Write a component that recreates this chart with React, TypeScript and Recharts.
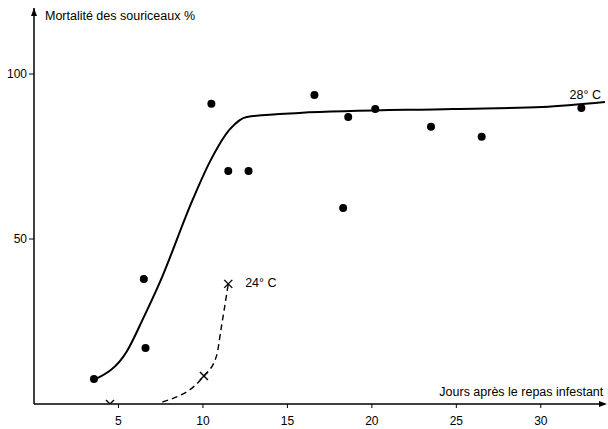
import { ComposedChart, XAxis, YAxis, Line, Scatter, ReferenceDot } from 'recharts'

// observed points, 28° C (days, % mortality)
const dots28 = [
  { x: 3.55, y: 7.6 },
  { x: 6.5, y: 37.9 },
  { x: 6.6, y: 17 },
  { x: 10.5, y: 91 },
  { x: 11.5, y: 70.6 },
  { x: 12.7, y: 70.6 },
  { x: 16.6, y: 93.6 },
  { x: 18.6, y: 87 },
  { x: 18.3, y: 59.4 },
  { x: 20.2, y: 89.4 },
  { x: 23.5, y: 84 },
  { x: 26.5, y: 81 },
  { x: 32.4, y: 89.7 },
]

// observed points, 24° C
const crosses24 = [
  { x: 4.5, y: 0 },
  { x: 10.06, y: 8.5 },
  { x: 11.5, y: 36.4 },
]

// hand-drawn trend curves
const curve28 = [
  { x: 3.55, y: 7.3 },
  { x: 5.5, y: 16 },
  { x: 6.45, y: 25.8 },
  { x: 7.46, y: 37 },
  { x: 9.4, y: 62 },
  { x: 10.4, y: 73.3 },
  { x: 11.6, y: 83.3 },
  { x: 12.6, y: 87 },
  { x: 15.7, y: 88.2 },
  { x: 24.8, y: 89.4 },
  { x: 30.1, y: 90 },
  { x: 33.8, y: 91.5 },
]

const curve24 = [
  { x: 7.6, y: 0.6 },
  { x: 10.06, y: 8.5 },
  { x: 10.8, y: 14.5 },
  { x: 11.1, y: 23.6 },
  { x: 11.5, y: 36.4 },
]

const xTicks = [5, 10, 15, 20, 25, 30]
const yTicks = [50, 100]

const FONT = '"Liberation Sans", Arial, sans-serif'

const dot = (p: any) => <circle cx={p.cx} cy={p.cy} r={4} fill="#000" />

const cross = (p: any) => (
  <g stroke="#000" strokeWidth={1.4}>
    <line x1={p.cx - 4} y1={p.cy - 4} x2={p.cx + 4} y2={p.cy + 4} />
    <line x1={p.cx - 4} y1={p.cy + 4} x2={p.cx + 4} y2={p.cy - 4} />
  </g>
)

const textAt = (txt: string, anchor: 'start' | 'end' = 'start') => (p: any) => (
  <text x={p.cx} y={p.cy} dy="0.35em" textAnchor={anchor} fontFamily={FONT} fontSize={12.5} fill="#000">
    {txt}
  </text>
)

export default function App() {
  return (
    <div style={{ width: 608, height: 429, background: '#fff' }}>
      <style>{'body{margin:0}'}</style>
      <ComposedChart width={608} height={429} margin={{ top: 8, right: 3, bottom: 0, left: 0 }}>
        <XAxis
          type="number"
          dataKey="x"
          domain={[0, 33.8]}
          ticks={xTicks}
          height={25}
          tickSize={4}
          tickMargin={8}
          axisLine={{ stroke: '#000', strokeWidth: 1.5 }}
          tickLine={{ stroke: '#000' }}
          tick={{ fill: '#000', fontSize: 12, fontFamily: FONT }}
          allowDataOverflow
        />
        <YAxis
          type="number"
          dataKey="y"
          domain={[0, 120]}
          ticks={yTicks}
          width={34}
          tickSize={5}
          tickMargin={2}
          axisLine={{ stroke: '#000', strokeWidth: 1.5 }}
          tickLine={{ stroke: '#000' }}
          tick={{ fill: '#000', fontSize: 12, fontFamily: FONT }}
          allowDataOverflow
        />
        <Line
          data={curve28}
          dataKey="y"
          type="monotone"
          stroke="#000"
          strokeWidth={2}
          dot={false}
          activeDot={false}
          isAnimationActive={false}
        />
        <Line
          data={curve24}
          dataKey="y"
          type="monotone"
          stroke="#000"
          strokeWidth={1.4}
          strokeDasharray="6 4"
          dot={false}
          activeDot={false}
          isAnimationActive={false}
        />
        <Scatter data={dots28} dataKey="y" shape={dot} isAnimationActive={false} />
        <Scatter data={crosses24} dataKey="y" shape={cross} isAnimationActive={false} />
        {/* axis arrow heads */}
        <ReferenceDot
          x={0}
          y={120}
          ifOverflow="visible"
          shape={(p: any) => <path d={`M${p.cx},${p.cy} l-3,8 l6,0 z`} fill="#000" />}
        />
        <ReferenceDot
          x={33.8}
          y={0}
          ifOverflow="visible"
          shape={(p: any) => <path d={`M${p.cx + 2},${p.cy} l-8,-3 l0,6 z`} fill="#000" />}
        />
        {/* annotations */}
        <ReferenceDot x={0.65} y={117.6} ifOverflow="visible" shape={textAt('Mortalité des souriceaux %')} />
        <ReferenceDot x={33.7} y={3.6} ifOverflow="visible" shape={textAt('Jours après le repas infestant', 'end')} />
        <ReferenceDot x={31.7} y={93.8} ifOverflow="visible" shape={textAt('28° C')} />
        <ReferenceDot x={12.5} y={36.7} ifOverflow="visible" shape={textAt('24° C')} />
      </ComposedChart>
    </div>
  )
}
